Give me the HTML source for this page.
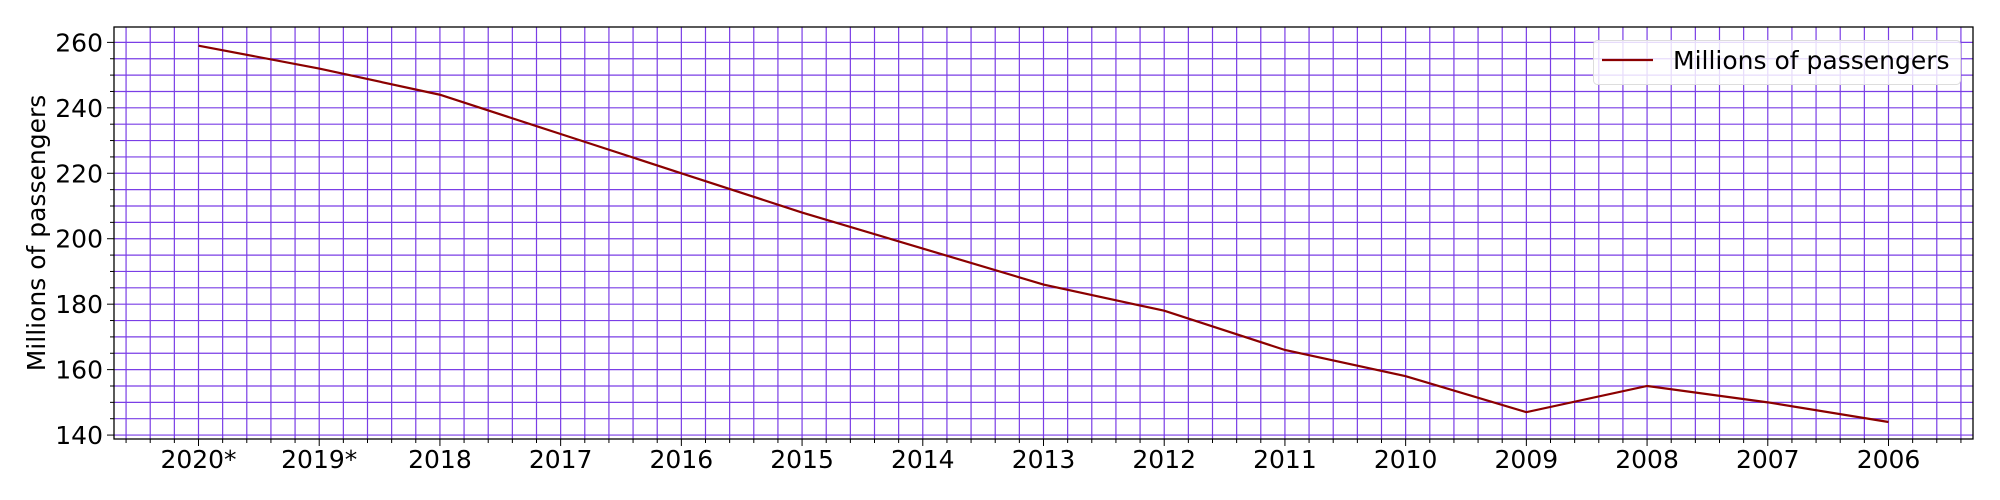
<!DOCTYPE html>
<html><head><meta charset="utf-8"><style>
html,body{margin:0;padding:0;background:#fff;}
svg{display:block;font-family:"DejaVu Sans","Liberation Sans",sans-serif;}
</style></head><body>
<svg id="chart" width="2000" height="500"></svg>
<script>
const categories = ["2020*","2019*","2018","2017","2016","2015","2014","2013","2012","2011","2010","2009","2008","2007","2006"];
const passengers = [259,252,244,232,220,208,197,186,178,166,158,147,155,150,144];
const yTicks = [140,160,180,200,220,240,260];
const seriesName = "Millions of passengers";

const L=114,R=1973,T=27,B=439;
const xMin=-0.7,xMax=14.7,yMin=138.8,yMax=264.7;
const NS="http://www.w3.org/2000/svg";
const svg=document.getElementById('chart');
function X(i){return L+(i-xMin)/(xMax-xMin)*(R-L);}
function Y(v){return B-(v-yMin)/(yMax-yMin)*(B-T);}
function mk(tag,attrs,parent){const e=document.createElementNS(NS,tag);for(const k in attrs)e.setAttribute(k,attrs[k]);(parent||svg).appendChild(e);return e;}
const grid=mk('g',{});


const gc="#7a3ee6";
for(let k=Math.ceil(xMin*5);k<=Math.floor(xMax*5);k++){
  const x=X(k/5);
  mk('line',{x1:x,x2:x,y1:T,y2:B,stroke:gc,'stroke-width':1.2},grid);
  mk('line',{x1:x,x2:x,y1:B,y2:B+(k%5===0?7:4),stroke:'#000','stroke-width':1},grid);
}
for(let v=Math.ceil(yMin/5)*5;v<=yMax;v+=5){
  const y=Y(v);
  mk('line',{x1:L,x2:R,y1:y,y2:y,stroke:gc,'stroke-width':1.2},grid);
  mk('line',{x1:L,x2:L-(v%20===0?7:4),y1:y,y2:y,stroke:'#000','stroke-width':1},grid);
}
yTicks.forEach(v=>{
  const t=mk('text',{x:L-11,y:Y(v)+9,'text-anchor':'end','font-size':25,fill:'#000'});
  t.textContent=v;
  
  
});
categories.forEach((c,i)=>{
  const t=mk('text',{x:X(i),y:B+29,'text-anchor':'middle','font-size':25,fill:'#000'});
  t.textContent=c;
  
  
});
const pts=passengers.map((v,i)=>X(i)+','+Y(v)).join(' ');
const line=mk('polyline',{points:pts,fill:'none',stroke:'#8b0000','stroke-width':2.2});


const fr=mk('rect',{x:L,y:T,width:R-L,height:B-T,fill:'none',stroke:'#000','stroke-width':1.3});


const yt=mk('text',{x:0,y:0,transform:'translate(45,233) rotate(-90)','text-anchor':'middle','font-size':25,fill:'#000'});
yt.textContent='Millions of passengers';


const lg=mk('g',{});


mk('rect',{x:1593.5,y:40.5,width:367,height:44,rx:4,fill:'rgba(255,255,255,0.82)',stroke:'#ddd','stroke-width':1},lg);
mk('line',{x1:1602,x2:1653,y1:60,y2:60,stroke:'#8b0000','stroke-width':2.2},lg);
const lt=mk('text',{x:1673,y:69,'font-size':25,fill:'#000'},lg);
lt.textContent=seriesName;


</script>
</body></html>
